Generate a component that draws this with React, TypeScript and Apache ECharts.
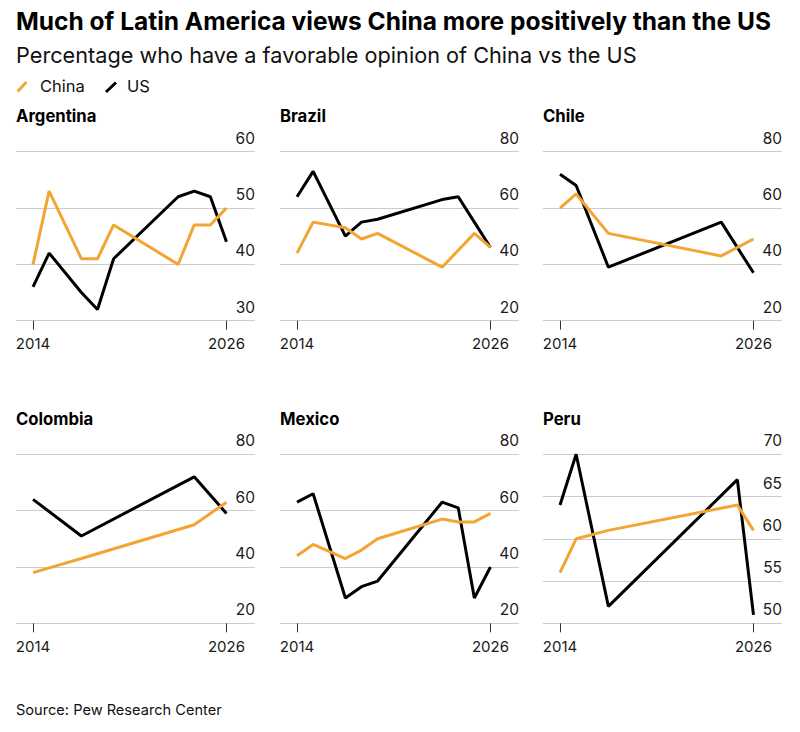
import React, { useEffect, useRef } from "react";
import * as echarts from "echarts";

const countries = ["Argentina", "Brazil", "Chile", "Colombia", "Mexico", "Peru"];

const argentinaYears = [2014, 2015, 2017, 2018, 2019, 2023, 2024, 2025, 2026];
const argentinaChina = [40, 53, 41, 41, 47, 40, 47, 47, 50];
const argentinaUS = [36, 42, 35, 32, 41, 52, 53, 52, 44];

const brazilYears = [2014, 2015, 2017, 2018, 2019, 2023, 2024, 2025, 2026];
const brazilChina = [44, 55, 53, 49, 51, 39, 45, 51, 46];
const brazilUS = [64, 73, 50, 55, 56, 63, 64, 55, 46];

const chileYears = [2014, 2015, 2017, 2024, 2026];
const chileChina = [60, 65, 51, 43, 49];
const chileUS = [72, 68, 39, 55, 37];

const colombiaYears = [2014, 2017, 2024, 2026];
const colombiaChina = [38, 43, 55, 63];
const colombiaUS = [64, 51, 72, 59];

const mexicoYears = [2014, 2015, 2017, 2018, 2019, 2023, 2024, 2025, 2026];
const mexicoChina = [44, 48, 43, 46, 50, 57, 56, 56, 59];
const mexicoUS = [63, 66, 29, 33, 35, 63, 61, 29, 40];

const peruYears = [2014, 2015, 2017, 2025, 2026];
const peruChina = [56, 60, 61, 64, 61];
const peruUS = [64, 70, 52, 67, 51];

// y-axis ranges [min, max, interval]
const yRanges = [
  [30, 60, 10],
  [20, 80, 20],
  [20, 80, 20],
  [20, 80, 20],
  [20, 80, 20],
  [50, 70, 5],
];

const xTickLabels = [2014, 2026];

const panelData = [
  [argentinaYears, argentinaChina, argentinaUS],
  [brazilYears, brazilChina, brazilUS],
  [chileYears, chileChina, chileUS],
  [colombiaYears, colombiaChina, colombiaUS],
  [mexicoYears, mexicoChina, mexicoUS],
  [peruYears, peruChina, peruUS],
];

const CHINA_COLOR = "#F2A533";
const US_COLOR = "#000000";
const FONT = "Inter";

export default function App() {
  const ref = useRef<HTMLDivElement>(null);

  useEffect(() => {
    if (!ref.current) return;
    const chart = echarts.init(ref.current, null, { renderer: "svg" });

    const lefts = [16, 280, 543];
    const tops = [151.7, 454.3];
    const gridW = 239;
    const gridH = 169;
    const pxPerYear = 193.3 / 12;
    const xMin = 2014 - 17 / pxPerYear;
    const xMax = 2026 + 28.5 / pxPerYear;

    const grids: any[] = [];
    const xAxes: any[] = [];
    const yAxes: any[] = [];
    const series: any[] = [];
    const graphics: any[] = [];

    countries.forEach((name, i) => {
      const col = i % 3;
      const row = Math.floor(i / 3);
      grids.push({
        left: lefts[col],
        top: tops[row],
        width: gridW,
        height: gridH,
        containLabel: false,
      });
      xAxes.push({
        type: "value",
        gridIndex: i,
        min: xMin,
        max: xMax,
        splitLine: { show: false },
        axisLine: { show: false },
        axisTick: {
          show: true,
          customValues: xTickLabels,
          length: 9,
          lineStyle: { color: "#333", width: 1 },
        },
        axisLabel: {
          show: true,
          customValues: xTickLabels,
          formatter: (v: number) => String(Math.round(v)),
          margin: 23,
          verticalAlign: "middle",
          color: "#1a1a1a",
          fontSize: 15,
          fontFamily: FONT,
        },
      });
      const [ymin, ymax, yint] = yRanges[i];
      yAxes.push({
        type: "value",
        gridIndex: i,
        position: "right",
        min: ymin,
        max: ymax,
        interval: yint,
        axisLine: { show: false },
        axisTick: { show: false },
        splitLine: { show: true, lineStyle: { color: "#cccccc", width: 1 } },
        axisLabel: {
          inside: true,
          margin: 0,
          align: "right",
          verticalAlign: "bottom",
          lineHeight: 27,
          color: "#1a1a1a",
          fontSize: 15.5,
          fontFamily: FONT,
        },
      });
      const [yrs, china, us] = panelData[i];
      series.push({
        type: "line",
        name: "US",
        xAxisIndex: i,
        yAxisIndex: i,
        data: yrs.map((y, k) => [y, us[k]]),
        showSymbol: false,
        lineStyle: { color: US_COLOR, width: 3 },
        itemStyle: { color: US_COLOR },
        silent: true,
        z: 2,
      });
      series.push({
        type: "line",
        name: "China",
        xAxisIndex: i,
        yAxisIndex: i,
        data: yrs.map((y, k) => [y, china[k]]),
        showSymbol: false,
        lineStyle: { color: CHINA_COLOR, width: 3 },
        itemStyle: { color: CHINA_COLOR },
        silent: true,
        z: 3,
      });
      graphics.push({
        type: "text",
        style: {
          text: name,
          x: lefts[col],
          y: row === 0 ? 115.7 : 418.7,
          fill: "#000",
          fontSize: 16.7,
          fontWeight: "bold",
          fontFamily: FONT,
          align: "left",
          verticalAlign: "middle",
        },
      });
    });

    graphics.push(
      {
        type: "text",
        style: {
          text: "Much of Latin America views China more positively than the US",
          x: 16,
          y: 20.5,
          fill: "#000",
          fontSize: 24.5,
          fontWeight: "bold",
          fontFamily: FONT,
          align: "left",
          verticalAlign: "middle",
        },
      },
      {
        type: "text",
        style: {
          text: "Percentage who have a favorable opinion of China vs the US",
          x: 16,
          y: 55.2,
          fill: "#111",
          fontSize: 21.7,
          fontFamily: FONT,
          align: "left",
          verticalAlign: "middle",
        },
      },
      {
        type: "line",
        shape: { x1: 17.5, y1: 91.5, x2: 26.5, y2: 82 },
        style: { stroke: CHINA_COLOR, lineWidth: 3 },
      },
      {
        type: "text",
        style: {
          text: "China",
          x: 40,
          y: 86.3,
          fill: "#111",
          fontSize: 16.5,
          fontFamily: FONT,
          align: "left",
          verticalAlign: "middle",
        },
      },
      {
        type: "line",
        shape: { x1: 106, y1: 92, x2: 116, y2: 82.5 },
        style: { stroke: US_COLOR, lineWidth: 3 },
      },
      {
        type: "text",
        style: {
          text: "US",
          x: 127,
          y: 86.3,
          fill: "#111",
          fontSize: 16.5,
          fontFamily: FONT,
          align: "left",
          verticalAlign: "middle",
        },
      },
      {
        type: "text",
        style: {
          text: "Source: Pew Research Center",
          x: 16,
          y: 710,
          fill: "#111",
          fontSize: 14.6,
          fontFamily: FONT,
          align: "left",
          verticalAlign: "middle",
        },
      }
    );

    chart.setOption({
      animation: false,
      backgroundColor: "#ffffff",
      grid: grids,
      xAxis: xAxes,
      yAxis: yAxes,
      series,
      graphic: graphics,
    });

    return () => {
      chart.dispose();
    };
  }, []);

  return (
    <div
      ref={ref}
      style={{ position: "absolute", left: 0, top: 0, width: 800, height: 732 }}
    />
  );
}
